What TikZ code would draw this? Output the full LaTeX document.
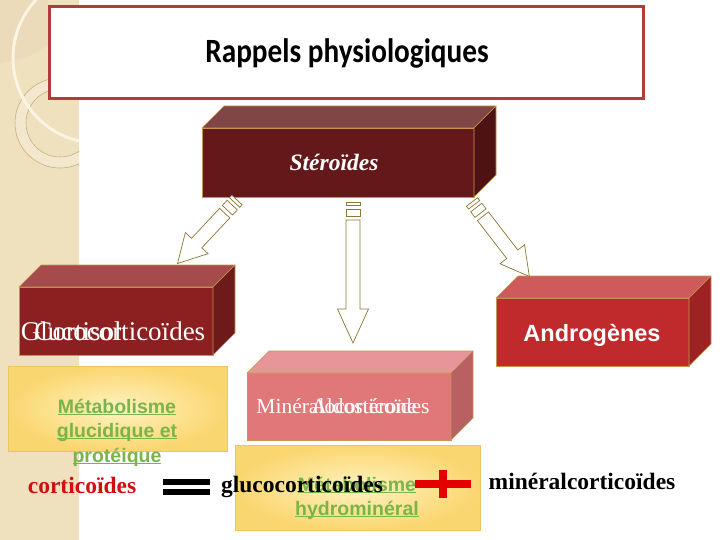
\documentclass[tikz,border=0pt]{standalone}
\usepackage{fontspec}
\setmainfont{Liberation Serif}
\newfontfamily\arialf{Liberation Sans}
\newfontfamily\titlef{Carlito}
\usetikzlibrary{calc}
\definecolor{stripc}{RGB}{239,224,190}
\definecolor{striptop}{RGB}{236,219,186}
\definecolor{ringc}{RGB}{243,232,205}
\definecolor{ringline}{RGB}{200,175,130}
\definecolor{creamc}{RGB}{250,244,225}
\definecolor{titleborder}{RGB}{178,60,58}
\definecolor{edgec}{RGB}{196,150,80}
\definecolor{arrowc}{RGB}{140,118,50}
\definecolor{greenc}{RGB}{122,180,74}
\definecolor{plusred}{RGB}{228,0,0}
\definecolor{corticred}{RGB}{208,16,16}
\definecolor{stfront}{RGB}{100,24,26}
\definecolor{sttop}{RGB}{128,70,70}
\definecolor{stside}{RGB}{78,18,18}
\definecolor{glfront}{RGB}{140,32,32}
\definecolor{gltop}{RGB}{165,75,75}
\definecolor{glside}{RGB}{110,26,26}
\definecolor{anfront}{RGB}{192,42,44}
\definecolor{antop}{RGB}{206,90,90}
\definecolor{anside}{RGB}{156,34,36}
\definecolor{mifront}{RGB}{224,120,122}
\definecolor{mitop}{RGB}{230,150,152}
\definecolor{miside}{RGB}{184,96,98}
\definecolor{yelin}{RGB}{255,243,192}
\definecolor{yelout}{RGB}{250,214,112}
\definecolor{yelborder}{RGB}{240,196,96}
\newcommand\gul[1]{\setbox0\hbox{#1}\rlap{\rule[-2.4pt]{\wd0}{1.5pt}}\box0}
\newcommand\threed[8]{%
  \node[draw=edgec, line width=0.6, fill=#6, minimum width=#4, minimum height=#5,
        inner sep=0, outer sep=0] (#1) at (#2,#3) {};
  \filldraw[draw=edgec, line width=0.6, fill=#7, line join=round]
    (#1.north west) -- ++(22,-22) -- ($(#1.north east)+(22,-22)$) -- (#1.north east) -- cycle;
  \filldraw[draw=edgec, line width=0.6, fill=#8, line join=round]
    (#1.north east) -- ++(22,-22) -- ($(#1.south east)+(22,-22)$) -- (#1.south east) -- cycle;}
\newcommand\blockarrow[6]{% name, x, y, angle, length, head length
  \coordinate (#1) at (#2,#3);
  \begin{scope}[shift={(#1)}, rotate=#4, draw=arrowc, line width=0.7, fill=white, line join=miter]
    \filldraw (0,-7) rectangle (3.5,7);
    \filldraw (7,-7) rectangle (14,7);
    \filldraw (18,-7) -- ({#5-#6},-7) -- ({#5-#6},-15.5) -- (#5,0) -- ({#5-#6},15.5)
      -- ({#5-#6},7) -- (18,7) -- cycle;
  \end{scope}}
\tikzset{
  boxtext/.style={text=white, anchor=base, inner sep=0},
  greentext/.style={text=greenc, anchor=base, inner sep=0, font=\arialf\bfseries\fontsize{19.5}{24}\selectfont},
  bottomtext/.style={anchor=base, inner sep=0, font=\bfseries\fontsize{23.5}{27}\selectfont},
  yelbox/.style={draw=yelborder, line width=0.8, inner color=yelin, outer color=yelout}
}
\begin{document}
\begin{tikzpicture}[x=1pt, y=-1pt]
\useasboundingbox (0,0) rectangle (720,540);
\fill[white] (0,0) rectangle (720,540);
% left decorative strip
\fill[stripc] (0,0) rectangle (79,540);
\begin{scope}
  \clip (0,0) rectangle (79,540);
  \fill[striptop] (0,0) -- (48,0) -- (48,45) .. controls (30,57) .. (0,63) -- cycle;
  \fill[ringc, even odd rule] (60,123) circle (45) (60,123) circle (34);
  \draw[ringline, line width=0.6] (60,123) circle (45) (60,123) circle (34);
  \draw[creamc, line width=3] (98,58) circle (85);
\end{scope}
% title
\node[draw=titleborder, line width=3, fill=white, minimum width=594, minimum height=92,
      inner sep=0] (titlebox) at (346,53) {};
\node[anchor=base, inner sep=0, xscale=0.86, font=\titlef\bfseries\fontsize{34}{40}\selectfont]
  (title) at (347,63) {Rappels physiologiques};
% 3D boxes
\threed{ster}{338}{162.5}{272}{69}{stfront}{sttop}{stside}
\node[boxtext, font=\bfseries\itshape\fontsize{23.5}{27}\selectfont] (stertxt) at (334,171) {Stéroïdes};
\threed{gluco}{116}{321}{194}{68}{glfront}{gltop}{glside}
\node[boxtext, font=\fontsize{27}{31}\selectfont] (glucotxt) at (113,340) {Glucocorticoïdes};
\node[boxtext, font=\fontsize{27}{31}\selectfont] (cortisol) at (78,340) {Cortisol};
\threed{andro}{592.5}{332}{193}{68}{anfront}{antop}{anside}
\node[boxtext, font=\arialf\bfseries\fontsize{23.5}{28}\selectfont] (androtxt) at (592,341) {Androgènes};
\threed{mineral}{349}{406.5}{204}{67}{mifront}{mitop}{miside}
\node[boxtext, font=\fontsize{21.5}{25}\selectfont] (minertxt) at (343,413) {Minéralocorticoïdes};
\node[boxtext, font=\fontsize{21.5}{25}\selectfont] (aldo) at (364,413) {Aldostérone};
% arrows
\blockarrow{arrL}{237}{200}{-133.1}{87}{28}
\blockarrow{arrM}{353}{202}{-90}{141}{34}
\blockarrow{arrR}{472}{202}{-52.4}{94}{28}
% yellow boxes
\path[yelbox] (8,366) rectangle (227,451);
\node[greentext] (gl1) at (117,413) {\gul{Métabolisme}};
\node[greentext] (gl2) at (117,437) {\gul{glucidique et}};
\node[greentext] (gl3) at (117,462) {\gul{protéique}};
\path[yelbox] (235,445) rectangle (480,530);
\node[greentext] (gr1) at (357,491) {\gul{Métabolisme}};
\node[greentext] (gr2) at (357,515) {\gul{hydrominéral}};
% bottom formula
\node[bottomtext, text=corticred] (cortic) at (82,493) {corticoïdes};
\fill[black] (163,479) rectangle (210,485);
\fill[black] (163,489) rectangle (210,495);
\node[bottomtext] (glucob) at (302,492) {glucocorticoïdes};
\fill[plusred] (415,480) rectangle (471,488);
\fill[plusred] (439,470) rectangle (447,498);
\node[bottomtext] (minerb) at (582,489) {minéralcorticoïdes};
\end{tikzpicture}
\end{document}
